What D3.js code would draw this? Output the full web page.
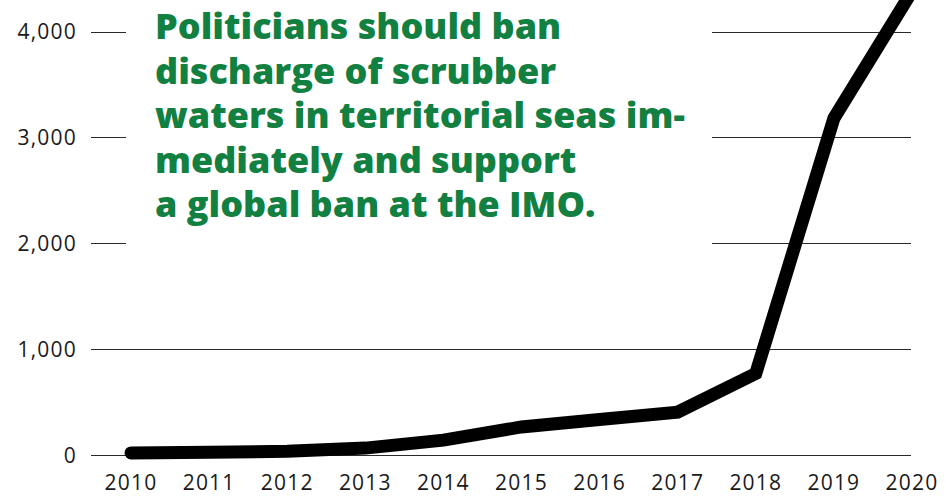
<!DOCTYPE html>
<html>
<head>
<meta charset="utf-8">
<script src="https://cdn.jsdelivr.net/npm/d3@7"></script>
<style>
  html, body { margin: 0; padding: 0; background: #fff; }
  svg { display: block; }
  .tick-label { font-family: "Open Sans", sans-serif; font-weight: 400; fill: #1a1a1a; letter-spacing: 1.2px; }
  .callout { font-family: "Open Sans", sans-serif; font-weight: 800; fill: #118041; }
</style>
</head>
<body>
<svg id="chart"></svg>
<script>
// Data
var years = [2010, 2011, 2012, 2013, 2014, 2015, 2016, 2017, 2018, 2019, 2020];
var ships = [20, 25, 35, 65, 140, 265, 335, 405, 770, 3180, 4380];
var yTicks = [0, 1000, 2000, 3000, 4000];
var calloutLines = [
    "Politicians should ban",
    "discharge of scrubber",
    "waters in territorial seas im-",
    "mediately and support",
    "a global ban at the IMO."
];

var width = 946, height = 497;

var svg = d3.select("#chart")
    .attr("width", width)
    .attr("height", height);

// Axis
var x = d3.scaleLinear().domain([2010, 2020]).range([131, 912]);
var y = d3.scaleLinear().domain([0, 4000]).range([455, 31.5]);

// Gridlines
var grid = svg.append("g").attr("class", "grid");
grid.selectAll("line")
    .data(yTicks)
    .enter()
    .append("line")
    .attr("x1", 91)
    .attr("x2", 911)
    .attr("y1", function(d) { return Math.round(y(d)) + 0.5; })
    .attr("y2", function(d) { return Math.round(y(d)) + 0.5; })
    .attr("stroke", "#2a2a2a")
    .attr("stroke-width", 1);

// Y labels
svg.append("g").selectAll("text")
    .data(yTicks)
    .enter()
    .append("text")
    .attr("class", "tick-label")
    .attr("x", 77)
    .attr("y", function(d) { return y(d); })
    .attr("dy", "0.36em")
    .attr("text-anchor", "end")
    .style("font-size", "21px")
    .text(function(d) { return d3.format(",")(d); });

// X labels
svg.append("g").selectAll("text")
    .data(years)
    .enter()
    .append("text")
    .attr("class", "tick-label")
    .attr("x", function(d) { return x(d); })
    .attr("y", 490)
    .attr("text-anchor", "middle")
    .style("font-size", "21px")
    .text(function(d) { return d; });

// White box behind the callout text
svg.append("rect")
    .attr("x", 126)
    .attr("y", 0)
    .attr("width", 586)
    .attr("height", 250)
    .attr("fill", "#fff");

// Line
var line = d3.line()
    .x(function(d, i) { return x(years[i]); })
    .y(function(d) { return y(d); });

svg.append("path")
    .datum(ships)
    .attr("d", line)
    .attr("fill", "none")
    .attr("stroke", "#000")
    .attr("stroke-width", 13)
    .attr("stroke-linecap", "round")
    .attr("stroke-linejoin", "miter");

// Callout
var callout = svg.append("g").attr("class", "callout-g");
var texts = callout.selectAll("text")
    .data(calloutLines)
    .enter()
    .append("text")
    .attr("class", "callout")
    .attr("x", 155)
    .attr("y", function(d, i) { return 39 + i * 44.6; })
    .style("font-size", "34px")
    .text(function(d) { return d; });

// fit longest line to the measured width
var longest = d3.max(texts.nodes(), function(n) { return n.getComputedTextLength(); });
var fs = 34 * 530 / longest;
texts.style("font-size", fs + "px");
</script>
</body>
</html>
